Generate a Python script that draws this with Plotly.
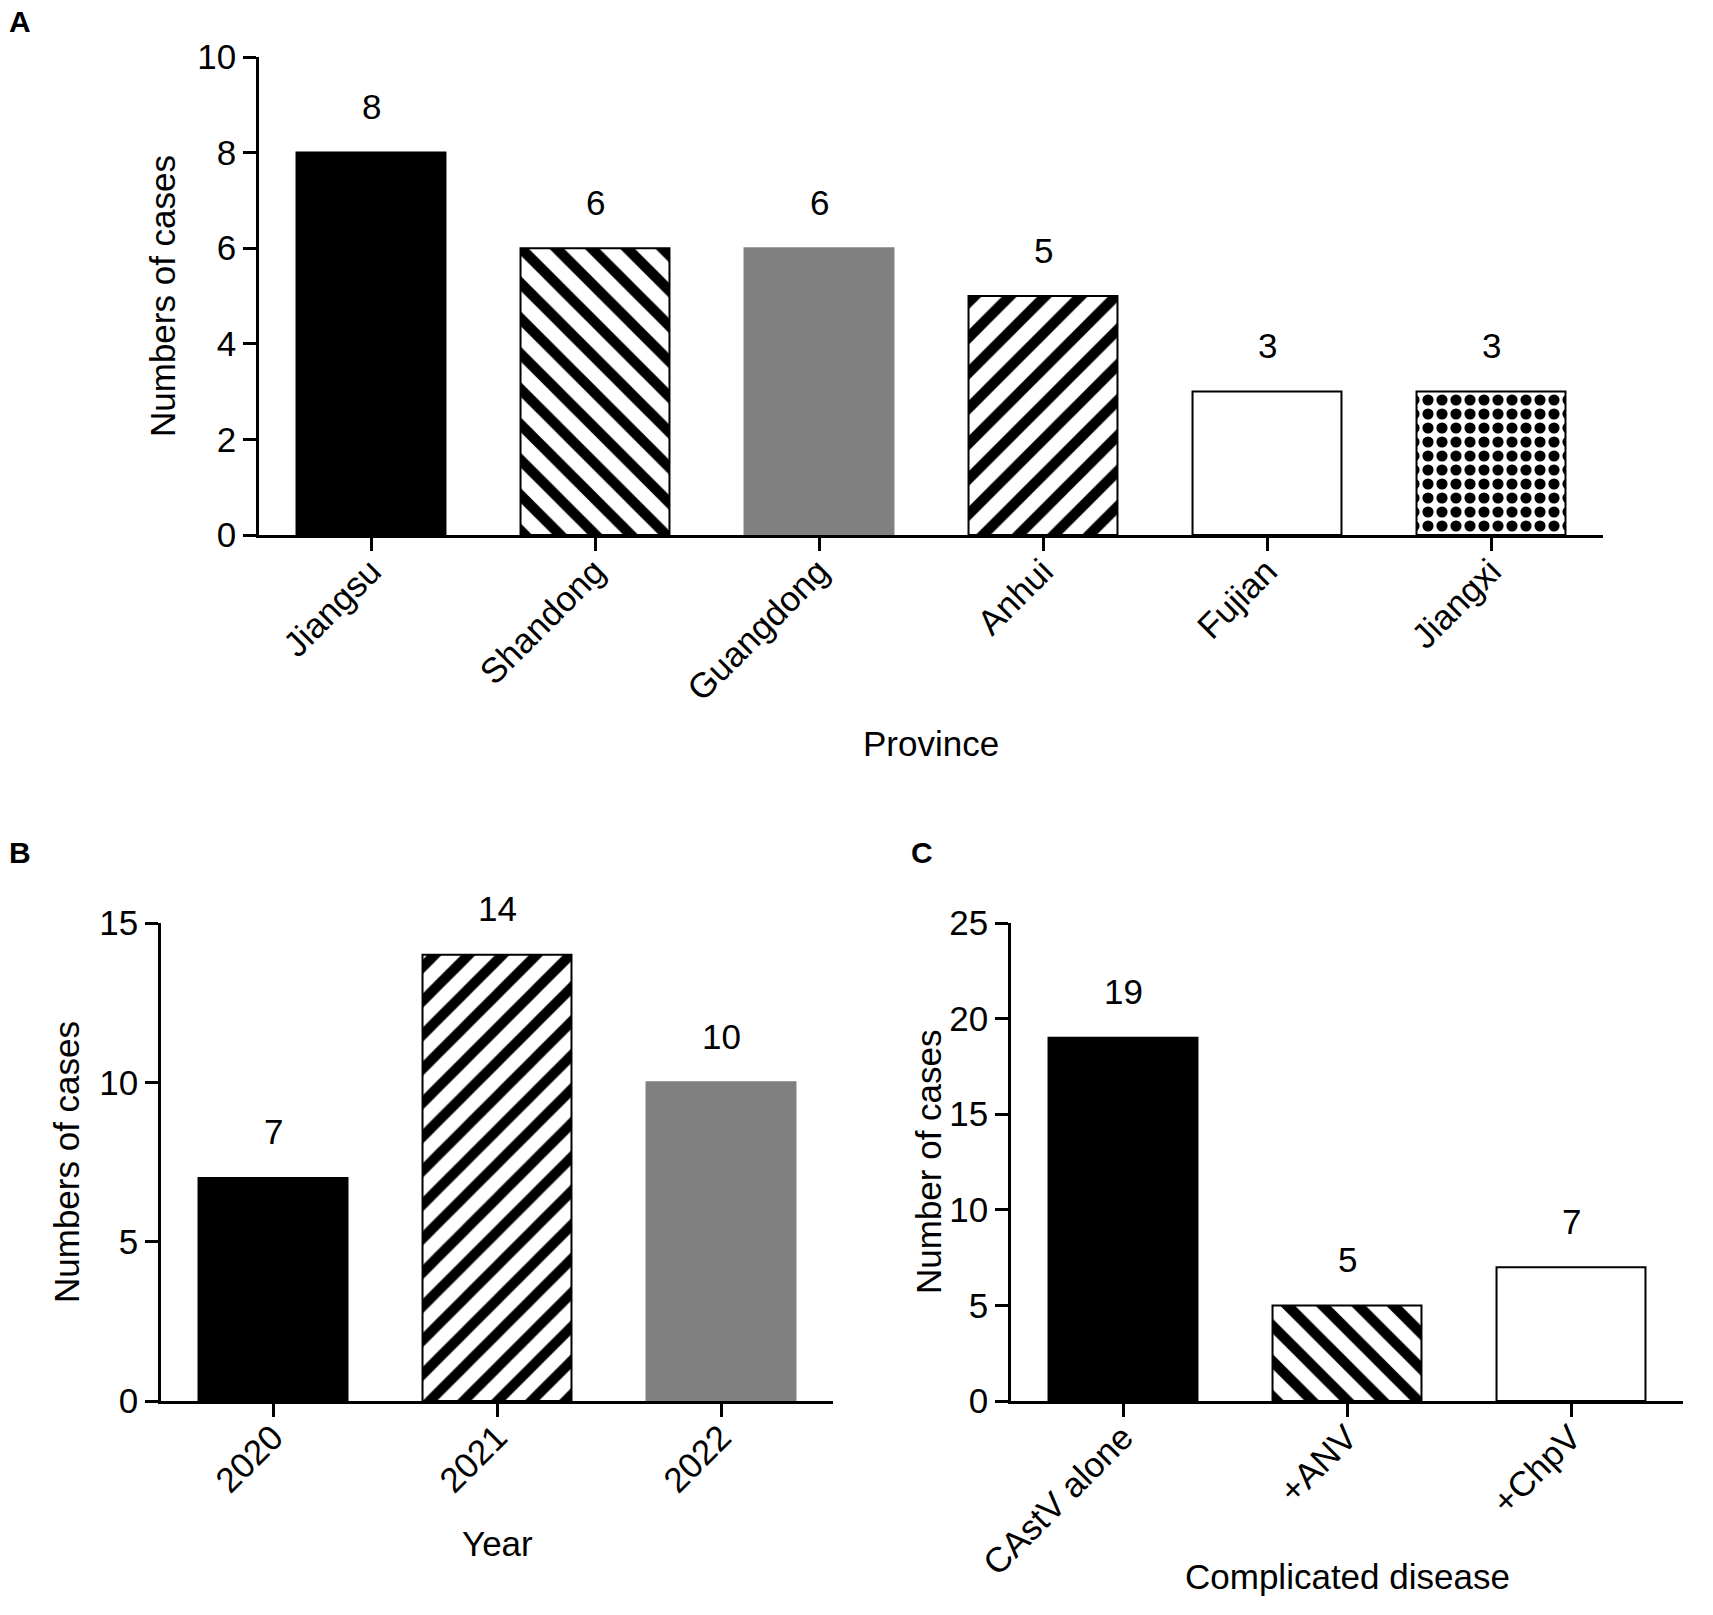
import plotly.graph_objects as go

# Panel A: cases by province
provinces = ["Jiangsu", "Shandong", "Guangdong", "Anhui", "Fujian", "Jiangxi"]
province_cases = [8, 6, 6, 5, 3, 3]

# Panel B: cases by year
years = ["2020", "2021", "2022"]
year_cases = [7, 14, 10]

# Panel C: co-infections
diseases = ["CAstV alone", "+ANV", "+ChpV"]
disease_cases = [19, 5, 7]

W, H = 1713, 1615
FONT = "Liberation Sans, Arial, sans-serif"
GRAY = "#808080"


def px_x(x):
    return x / W


def px_y(y):
    return 1 - y / H


# fill colour, outline colour, pattern shape, pattern size, solidity per bar
style_a = [("black", "black", "", 25, 0.42),
           ("white", "black", "\\", 25, 0.42),
           (GRAY, GRAY, "", 25, 0.42),
           ("white", "black", "/", 25, 0.42),
           ("white", "black", "", 25, 0.42),
           ("white", "black", ".", 14, 0.5)]
style_b = [("black", "black", "", 24, 0.42),
           ("white", "black", "/", 24, 0.42),
           (GRAY, GRAY, "", 24, 0.42)]
style_c = [("black", "black", "", 25, 0.42),
           ("white", "black", "\\", 25, 0.42),
           ("white", "black", "", 25, 0.42)]

fig = go.Figure()

for xa, ya, cats, vals, styles in [("x", "y", provinces, province_cases, style_a),
                                   ("x2", "y2", years, year_cases, style_b),
                                   ("x3", "y3", diseases, disease_cases, style_c)]:
    for cat, val, (fc, lc, sh, sz, so) in zip(cats, vals, styles):
        fig.add_bar(
            x=[cat], y=[val], xaxis=xa, yaxis=ya,
            marker=dict(color=fc, line=dict(color=lc, width=2),
                        pattern=dict(shape=sh, fgcolor="black", fgopacity=1, size=sz,
                                     solidity=so, fillmode="overlay")),
            showlegend=False, hoverinfo="x+y",
        )

# value labels above bars (category index on the x axis)
annotations = []
for xref, yref, vals in [("x", "y", province_cases),
                         ("x2", "y2", year_cases),
                         ("x3", "y3", disease_cases)]:
    for i, v in enumerate(vals):
        annotations.append(dict(
            x=i, y=v, xref=xref, yref=yref, text=str(v), showarrow=False,
            yanchor="middle", yshift=46, font=dict(size=35, color="black"),
        ))

# axis titles and panel letters
titles = [
    ("Numbers of cases", 163, 296, -90),
    ("Province", 931, 743, 0),
    ("Numbers of cases", 66, 1162, -90),
    ("Year", 497, 1543, 0),
    ("Number of cases", 928, 1162, -90),
    ("Complicated disease", 1347, 1576, 0),
]
for text, x, y, ang in titles:
    annotations.append(dict(
        x=px_x(x), y=px_y(y), xref="paper", yref="paper", text=text,
        showarrow=False, textangle=ang, xanchor="center", yanchor="middle",
        font=dict(size=35, color="black"),
    ))
for text, x, y in [("A", 20, 22), ("B", 20, 852), ("C", 922, 852)]:
    annotations.append(dict(
        x=px_x(x), y=px_y(y), xref="paper", yref="paper", text="<b>" + text + "</b>",
        showarrow=False, xanchor="center", yanchor="middle",
        font=dict(size=30, color="black"),
    ))

axis_style = dict(
    showline=True, linecolor="black", linewidth=2.5,
    ticks="outside", ticklen=13, tickwidth=2.5, tickcolor="black",
    showgrid=False, zeroline=False, automargin=False,
    tickfont=dict(size=35, color="black"),
)
x_style = dict(type="category", tickangle=-45, ticklabelstandoff=-14, **axis_style)

fig.update_layout(
    width=W, height=H,
    margin=dict(l=0, r=0, t=0, b=0),
    paper_bgcolor="white", plot_bgcolor="white",
    font=dict(family=FONT, size=35, color="black"),
    bargap=0.335, barmode="overlay",
    xaxis=dict(domain=[px_x(259), px_x(1603)], anchor="y", **x_style),
    yaxis=dict(domain=[px_y(535), px_y(57)], anchor="x", range=[0, 10], dtick=2, **axis_style),
    xaxis2=dict(domain=[px_x(161), px_x(833)], anchor="y2", **x_style),
    yaxis2=dict(domain=[px_y(1401), px_y(923)], anchor="x2", range=[0, 15], dtick=5, **axis_style),
    xaxis3=dict(domain=[px_x(1011), px_x(1683)], anchor="y3", **x_style),
    yaxis3=dict(domain=[px_y(1401), px_y(923)], anchor="x3", range=[0, 25], dtick=5, **axis_style),
    annotations=annotations,
)

fig.write_html("out.html", config={"displayModeBar": False},
               post_script="document.body.style.margin='0';")
